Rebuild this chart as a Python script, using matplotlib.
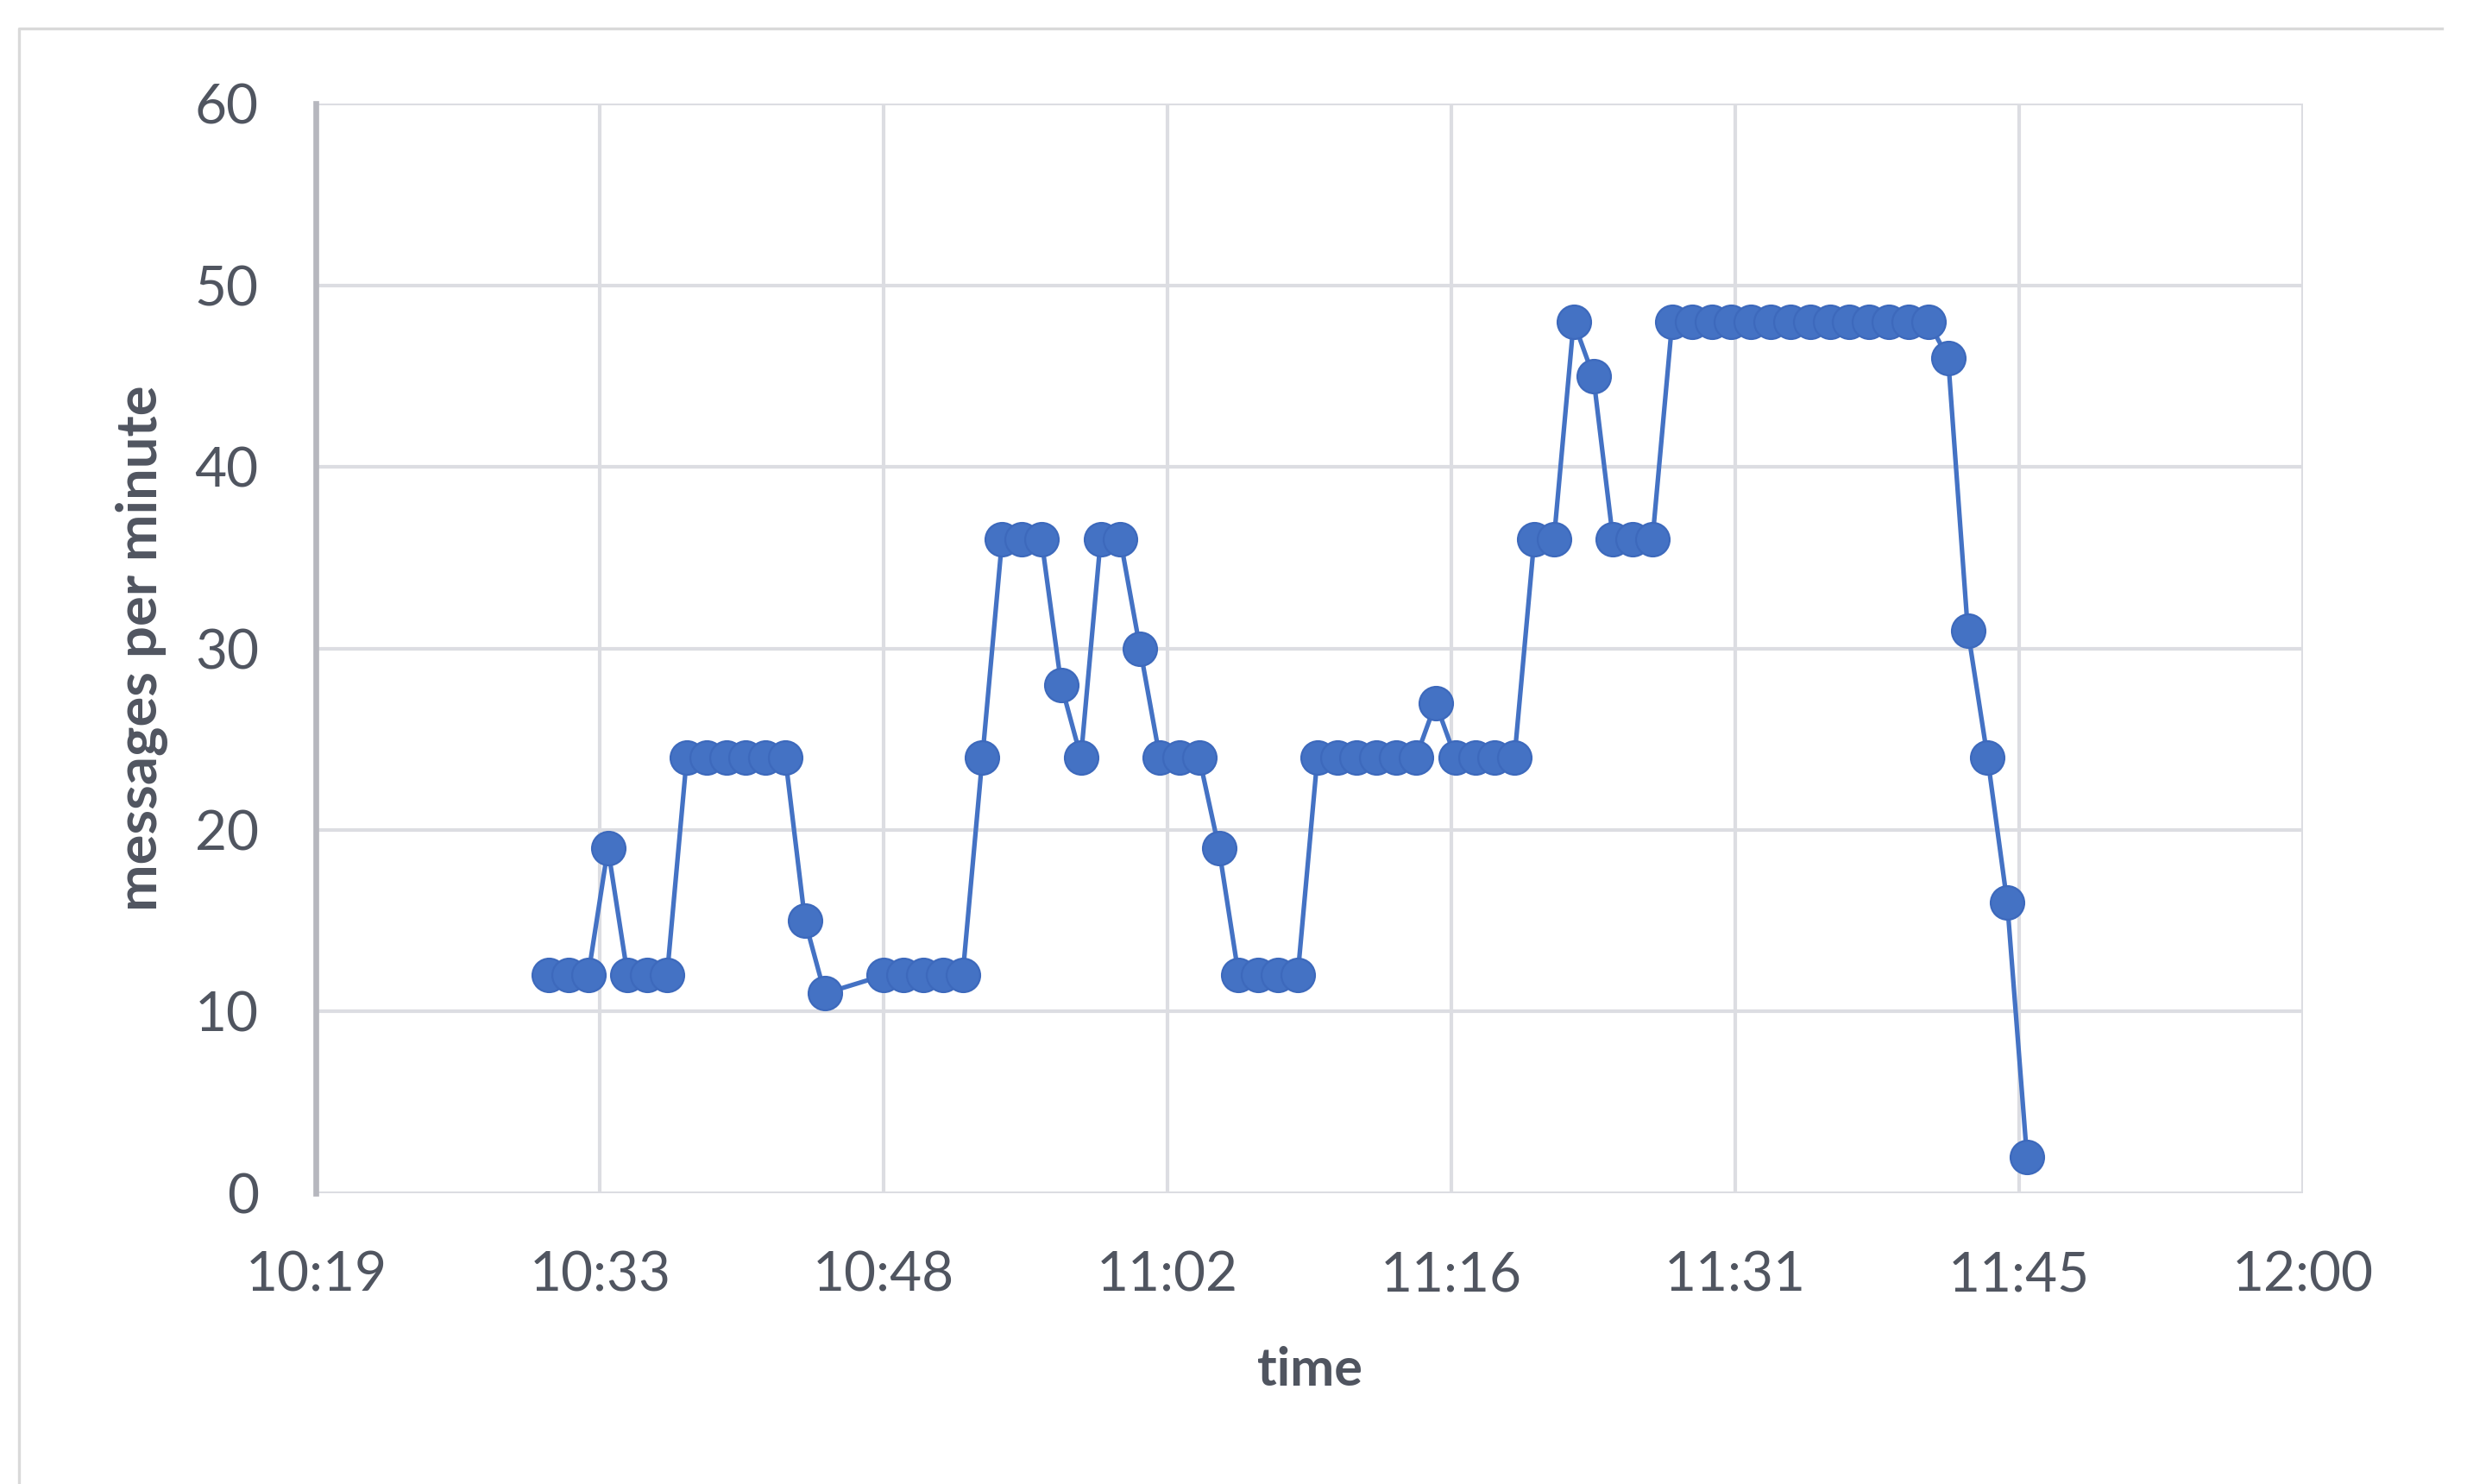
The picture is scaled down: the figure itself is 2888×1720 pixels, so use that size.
import matplotlib
matplotlib.use("Agg")
import matplotlib.pyplot as plt
from matplotlib.ticker import FuncFormatter, MultipleLocator
from matplotlib.lines import Line2D

# minutes after 10:00
minutes = [31, 32, 33, 34, 35, 36, 37, 38, 39, 40, 41, 42, 43, 44, 45,
           48, 49, 50, 51, 52, 53, 54, 55, 56, 57, 58, 59, 60, 61, 62, 63, 64,
           65, 66, 67, 68, 69, 70, 71, 72, 73, 74, 75, 76, 77, 78, 79, 80,
           81, 82, 83, 84, 85, 86, 87, 88, 89, 90, 91, 92, 93, 94, 95, 96,
           97, 98, 99, 100, 101, 102, 103, 104, 105, 106]
messages = [12, 12, 12, 19, 12, 12, 12, 24, 24, 24, 24, 24, 24, 15, 11,
            12, 12, 12, 12, 12, 24, 36, 36, 36, 28, 24, 36, 36, 30, 24, 24, 24,
            19, 12, 12, 12, 12, 24, 24, 24, 24, 24, 24, 27, 24, 24, 24, 24,
            36, 36, 48, 45, 36, 36, 36, 48, 48, 48, 48, 48, 48, 48, 48, 48,
            48, 48, 48, 48, 48, 46, 31, 24, 16, 2]

# x in minutes since midnight
x = [600 + m for m in minutes]

txt = '#505560'
plt.rcParams['font.family'] = ['Lato', 'DejaVu Sans']

fig = plt.figure(figsize=(14.44, 8.6), dpi=200)
ax = fig.add_axes([0.1269, 0.196, 0.7972, 0.734])

ax.plot(x, messages, color='#4472C4', lw=1.9, marker='o', ms=14,
        markerfacecolor='#4472C4', markeredgecolor='#3D69BC', mew=0.8, zorder=3)

ax.set_xlim(0.43 * 1440, 0.50 * 1440)
ax.set_ylim(0, 60)
ax.xaxis.set_major_locator(MultipleLocator(0.01 * 1440))
ax.yaxis.set_major_locator(MultipleLocator(10))


def hhmm(v, pos):
    v = int(v + 1e-6)
    return '%d:%02d' % (v // 60, v % 60)


ax.xaxis.set_major_formatter(FuncFormatter(hhmm))
ax.grid(True, color='#dcdde2', lw=1.5, zorder=0)
ax.set_axisbelow(True)
for s in ['top', 'right', 'bottom']:
    ax.spines[s].set_visible(False)
ax.spines['left'].set_color('#b6b7be')
ax.spines['left'].set_linewidth(2.4)
ax.tick_params(length=0, labelsize=23, labelcolor=txt)
ax.tick_params(axis='x', pad=24)
ax.tick_params(axis='y', pad=24)

ax.set_xlabel('time', fontsize=22, fontweight='bold', color=txt, labelpad=19)
ax.set_ylabel('messages per minute', fontsize=23.5, fontweight='bold', color=txt, labelpad=11)

# chart area border (no right edge visible)
fig.add_artist(Line2D([0.0077, 0.0077, 0.980], [0, 0.981, 0.981],
                      transform=fig.transFigure, color='#d9d9d9', lw=1.2))

fig.savefig('out.png', dpi=200, facecolor='white')
